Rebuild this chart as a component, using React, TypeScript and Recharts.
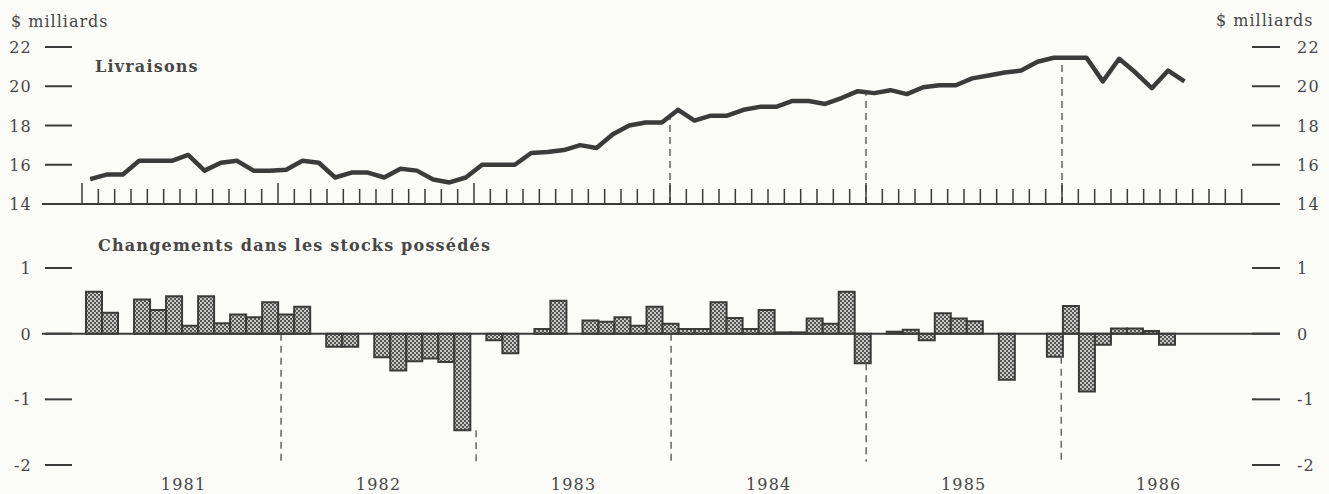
import { LineChart, Line, ComposedChart, Bar, XAxis, YAxis, ReferenceLine } from "recharts";

const YEARS = ["1981", "1982", "1983", "1984", "1985", "1986"];
const MONTHS = ["jan", "fév", "mar", "avr", "mai", "jun", "jul", "aoû", "sep", "oct", "nov", "déc"];

// Livraisons, $ milliards, janv. 1981 – août 1986
const DELIVERIES = [
  15.27, 15.5, 15.5, 16.2, 16.2, 16.2, 16.5, 15.7, 16.1, 16.2, 15.7, 15.7,
  15.75, 16.2, 16.1, 15.35, 15.6, 15.6, 15.35, 15.8, 15.7, 15.25, 15.1, 15.35,
  16.0, 16.0, 16.0, 16.6, 16.65, 16.75, 17.0, 16.85, 17.55, 18.0, 18.15, 18.15,
  18.8, 18.25, 18.5, 18.5, 18.8, 18.95, 18.95, 19.25, 19.25, 19.1, 19.4, 19.75,
  19.65, 19.8, 19.6, 19.95, 20.05, 20.05, 20.4, 20.55, 20.7, 20.8, 21.25, 21.45,
  21.45, 21.45, 20.25, 21.4, 20.7, 19.9, 20.8, 20.25,
];

// Changements dans les stocks possédés, $ milliards
const STOCK_CHANGES = [
  0.64, 0.32, 0, 0.52, 0.36, 0.57, 0.12, 0.57, 0.16, 0.29, 0.25, 0.48,
  0.29, 0.41, 0, -0.2, -0.2, 0, -0.36, -0.56, -0.42, -0.38, -0.43, -1.47,
  0, -0.1, -0.3, 0, 0.07, 0.5, 0, 0.2, 0.18, 0.25, 0.12, 0.41,
  0.15, 0.07, 0.07, 0.48, 0.24, 0.07, 0.36, 0.02, 0.02, 0.23, 0.15, 0.64,
  -0.45, 0, 0.03, 0.06, -0.1, 0.31, 0.23, 0.19, 0, -0.7, 0, 0,
  -0.35, 0.42, -0.88, -0.17, 0.08, 0.08, 0.04, -0.17,
];

const DELIVERY_TICKS = [14, 16, 18, 20, 22];
const STOCK_TICKS = [-2, -1, 0, 1];
const MONTH_TICKS = Array.from({ length: 72 }, (_, i) => i);
const YEAR_MIDS = [6, 18, 30, 42, 54, 66];
const YEAR_BREAKS = [12, 24, 36, 48, 60];
const TOP_DASHED = [36, 48, 60];

const deliveryData = DELIVERIES.map((v, i) => ({
  m: i + 0.5,
  label: `${MONTHS[i % 12]} ${YEARS[Math.floor(i / 12)]}`,
  value: v,
}));
const stockData = STOCK_CHANGES.map((v, i) => ({
  label: `${MONTHS[i % 12]} ${YEARS[Math.floor(i / 12)]}`,
  value: v,
}));

const INK = "#3b3b3b";
const TEXT = "#474747";
const font = { fontFamily: "'DejaVu Serif', serif", fontSize: 16, letterSpacing: 1.2 };

const LeftTick = ({ x, y, payload }: any) => (
  <g>
    <line x1={x + 3} x2={x + 30} y1={y} y2={y} stroke={INK} strokeWidth={2} />
    <text x={x - 10} y={y} dy={6} textAnchor="end" fill={TEXT} style={font}>
      {payload.value}
    </text>
  </g>
);

const RightTick = ({ x, y, payload }: any) => (
  <g>
    <line x1={x - 28} x2={x} y1={y} y2={y} stroke={INK} strokeWidth={2} />
    <text x={x + 17} y={y} dy={6} textAnchor="start" fill={TEXT} style={font}>
      {payload.value}
    </text>
  </g>
);

const MonthTick = ({ x, y, payload }: any) => {
  const long = payload.value % 12 === 0;
  return <line x1={x} x2={x} y1={y} y2={y - (long ? 21 : 15)} stroke={INK} strokeWidth={1.5} />;
};

const YearTick = ({ x, y, payload }: any) => (
  <text x={x} y={y + 25} textAnchor="middle" fill={TEXT} style={font}>
    {YEARS[Math.floor(payload.value / 12)]}
  </text>
);

const axisBase = { axisLine: false, tickLine: false, tickSize: 0, tickMargin: 0, interval: 0 as const, allowDataOverflow: true };

export default function App() {
  return (
    <div style={{ position: "absolute", left: 0, top: 0, width: 1329, height: 494, background: "#fbfbf8" }}>
      <div style={{ position: "absolute", left: 0, top: 0 }}>
        <LineChart width={1329} height={222} data={deliveryData} margin={{ top: 47, right: 0, bottom: 17, left: 0 }}>
          <XAxis
            dataKey="m"
            type="number"
            domain={[0, 72]}
            allowDataOverflow
            ticks={MONTH_TICKS}
            interval={0}
            padding={{ left: 40, right: 22 }}
            height={1}
            tickSize={0}
            tickMargin={0}
            tickLine={false}
            axisLine={{ stroke: INK, strokeWidth: 2 }}
            tick={(p: any) => <MonthTick {...p} />}
          />
          <YAxis yAxisId="l" domain={[14, 22]} ticks={DELIVERY_TICKS} width={42} {...axisBase}
            tick={(p: any) => <LeftTick {...p} />} />
          <YAxis yAxisId="r" orientation="right" domain={[14, 22]} ticks={DELIVERY_TICKS} width={49} {...axisBase}
            tick={(p: any) => <RightTick {...p} />} />
          {TOP_DASHED.map((m) => (
            <ReferenceLine
              key={m}
              yAxisId="l"
              segment={[{ x: m, y: 14 }, { x: m, y: (DELIVERIES[m - 1] + DELIVERIES[m]) / 2 }]}
              stroke="#666"
              strokeWidth={1.5}
              strokeDasharray="7 5"
            />
          ))}
          <Line yAxisId="l" dataKey="value" stroke={INK} strokeWidth={4.5} dot={false} strokeLinejoin="round" isAnimationActive={false} />
          <Line yAxisId="r" dataKey="value" stroke="none" dot={false} legendType="none" isAnimationActive={false} />
        </LineChart>
      </div>

      <div style={{ position: "absolute", left: 0, top: 220 }}>
        <ComposedChart width={1329} height={274} data={stockData} margin={{ top: 48, right: 0, bottom: 28, left: 0 }} barCategoryGap={0}>
          <defs>
            <pattern id="stipple" width="4" height="4" patternUnits="userSpaceOnUse">
              <rect width="4" height="4" fill="#c9c9c5" />
              <rect width="2" height="2" fill="#555" />
              <rect x="2" y="2" width="2" height="2" fill="#555" />
            </pattern>
          </defs>
          <XAxis
            xAxisId="yr"
            type="number"
            domain={[0, 68]}
            ticks={YEAR_MIDS}
            padding={{ left: 44, right: 105 }}
            height={1}
            {...axisBase}
            tick={(p: any) => <YearTick {...p} />}
          />
          <XAxis xAxisId="cat" dataKey="label" padding={{ left: 44, right: 105 }} height={0} hide />
          <YAxis yAxisId="l" domain={[-2, 1]} ticks={STOCK_TICKS} width={42} {...axisBase}
            tick={(p: any) => <LeftTick {...p} />} />
          <YAxis yAxisId="r" orientation="right" domain={[-2, 1]} ticks={STOCK_TICKS} width={49} {...axisBase}
            tick={(p: any) => <RightTick {...p} />} />
          {YEAR_BREAKS.map((m) => (
            <ReferenceLine
              key={m}
              xAxisId="yr"
              yAxisId="l"
              segment={[
                { x: m, y: Math.min(0, STOCK_CHANGES[m - 1], STOCK_CHANGES[m]) },
                { x: m, y: -1.95 },
              ]}
              stroke="#666"
              strokeWidth={1.5}
              strokeDasharray="7 5"
            />
          ))}
          <Bar xAxisId="cat" yAxisId="l" dataKey="value" fill="url(#stipple)" stroke={INK} strokeWidth={2} isAnimationActive={false} />
          <Line xAxisId="cat" yAxisId="r" dataKey="value" stroke="none" dot={false} legendType="none" isAnimationActive={false} />
          <ReferenceLine xAxisId="cat" yAxisId="l" y={0} stroke={INK} strokeWidth={2} />
        </ComposedChart>
      </div>

      <svg width={1329} height={494} style={{ position: "absolute", left: 0, top: 0, pointerEvents: "none" }}>
        <text x={11} y={27} fill={TEXT} style={{ ...font, fontSize: 16, letterSpacing: 1 }}>$ milliards</text>
        <text x={1216} y={26} fill={TEXT} style={{ ...font, fontSize: 16, letterSpacing: 1 }}>$ milliards</text>
        <text x={95} y={72} fill={TEXT} style={{ ...font, fontWeight: "bold" }}>Livraisons</text>
        <text x={98} y={251} fill={TEXT} style={{ ...font, fontWeight: "bold" }}>Changements dans les stocks possédés</text>
      </svg>
    </div>
  );
}
